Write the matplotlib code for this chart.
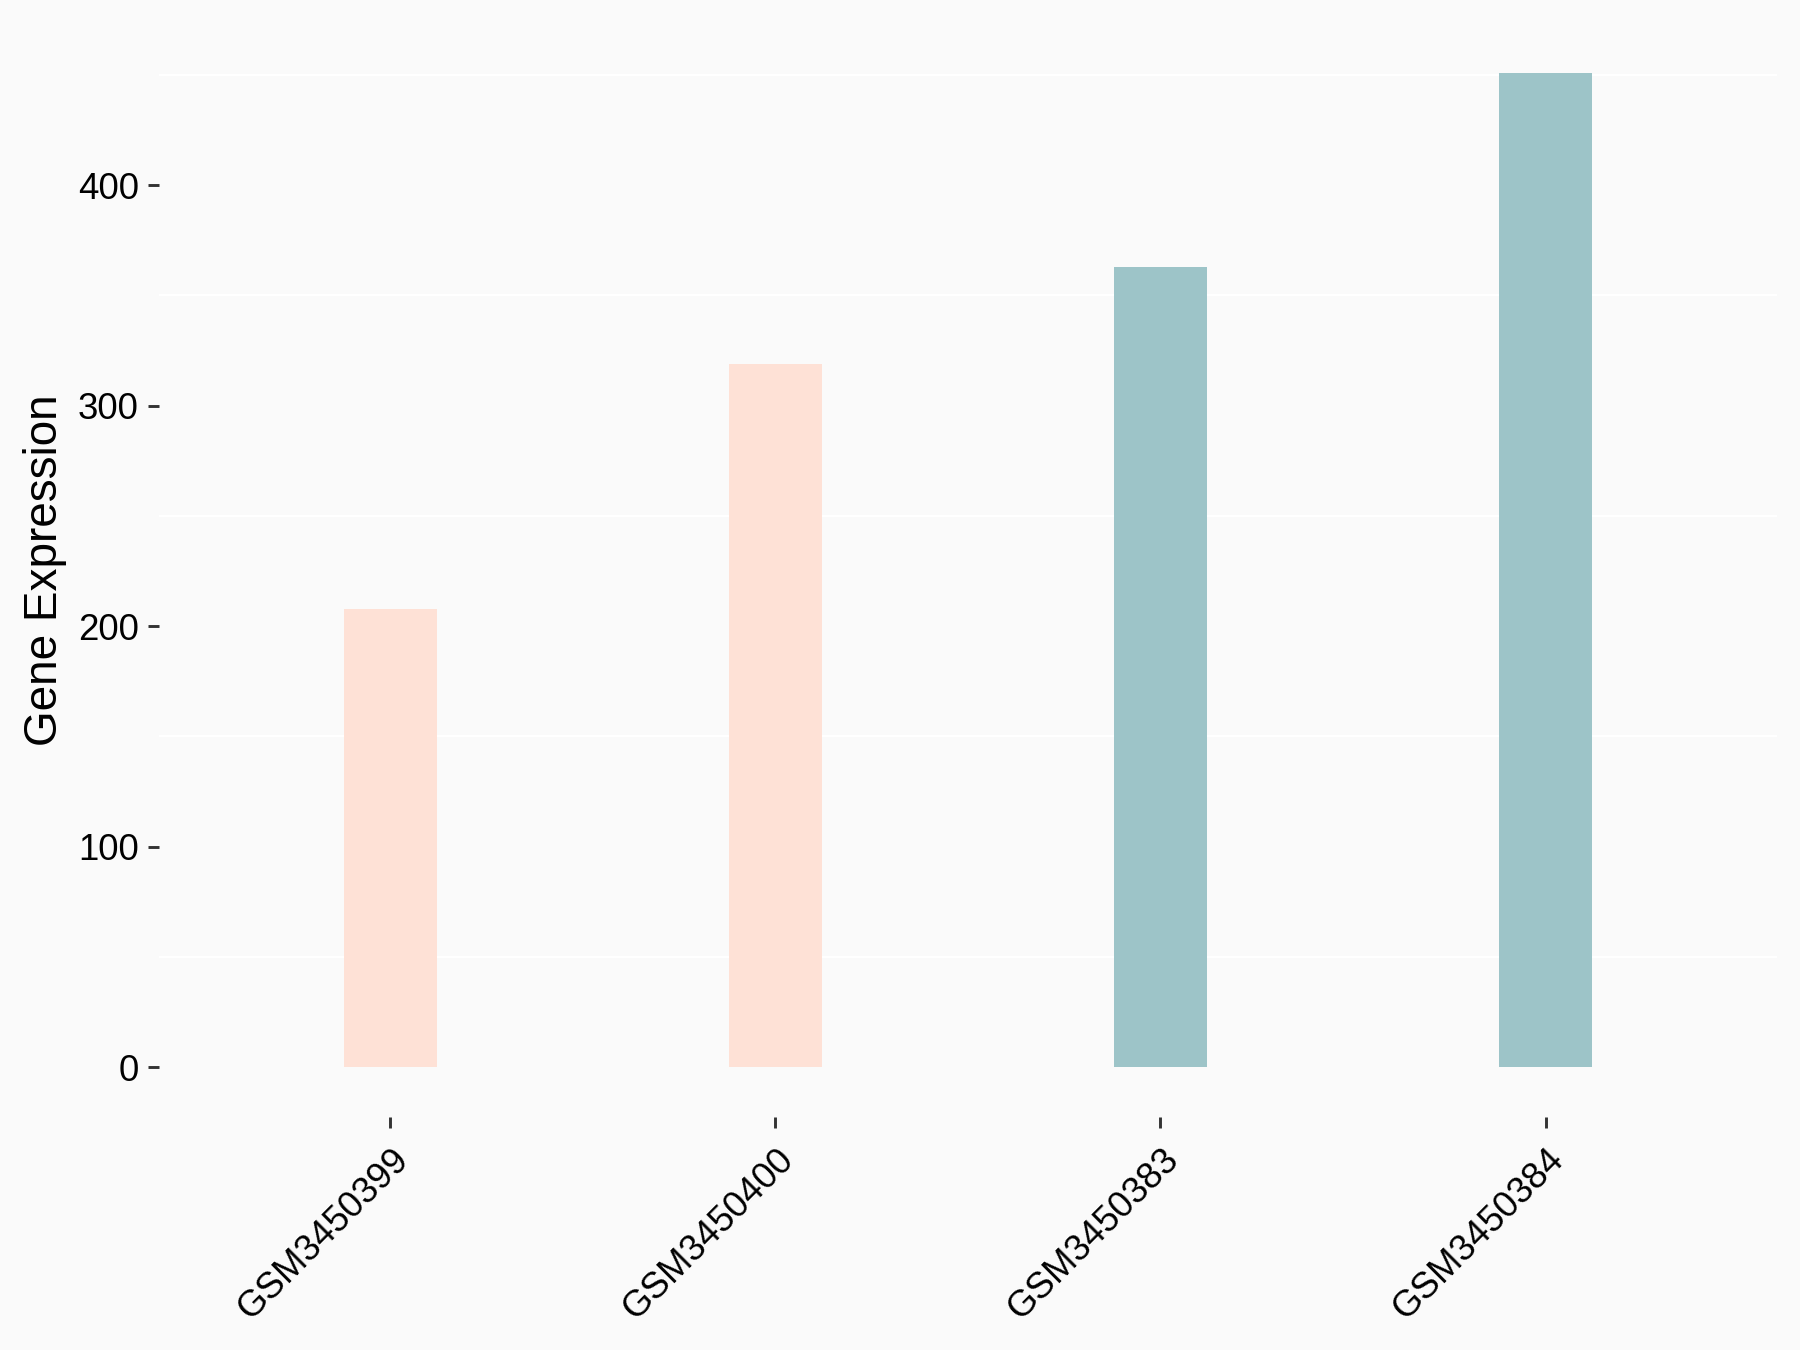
import matplotlib
matplotlib.use("Agg")
import matplotlib.pyplot as plt
from matplotlib.ticker import MultipleLocator

samples = ["GSM3450399", "GSM3450400", "GSM3450383", "GSM3450384"]
expression = [208, 319, 363, 451]
groups = ["A", "A", "B", "B"]
group_colors = {"A": "#FEE1D6", "B": "#9DC4C8"}

plt.rcParams['font.family'] = ['Liberation Sans', 'DejaVu Sans']

fig = plt.figure(figsize=(6, 4.5), dpi=300, facecolor="#FAFAFA")
ax = fig.add_axes([0.0885, 0.1726, 0.8985, 0.8104])
ax.set_facecolor("#FAFAFA")

x = list(range(1, len(samples) + 1))
ax.bar(x, expression, width=0.24, color=[group_colors[g] for g in groups],
       zorder=2, linewidth=0)

ymax = max(expression)
pad = 0.05 * ymax
ax.set_ylim(-pad, ymax + pad)
ax.set_xlim(0.4, len(samples) + 0.6)

ax.yaxis.set_major_locator(MultipleLocator(100))
ax.yaxis.set_minor_locator(MultipleLocator(50))
ax.grid(False)
for v in range(50, int(ymax + pad) + 1, 100):
    ax.axhline(v, color="white", lw=0.55, zorder=1)

ax.set_xticks(x)
ax.set_xticklabels(samples, rotation=45, ha="right", va="top",
                   rotation_mode="anchor", fontsize=8.8, color="black")
ax.tick_params(axis="both", which="major", length=2.75, width=0.7,
               color="#333333", labelsize=8.8, labelcolor="black", pad=2.2)
ax.tick_params(axis="y", which="minor", length=0)
ax.tick_params(axis="x", pad=3.2)
for s in ax.spines.values():
    s.set_visible(False)

ax.set_ylabel("Gene Expression", fontsize=11, color="black")
ax.yaxis.set_label_coords(-0.057, 0.5)

fig.savefig("out.png", dpi=300, facecolor="#FAFAFA")
